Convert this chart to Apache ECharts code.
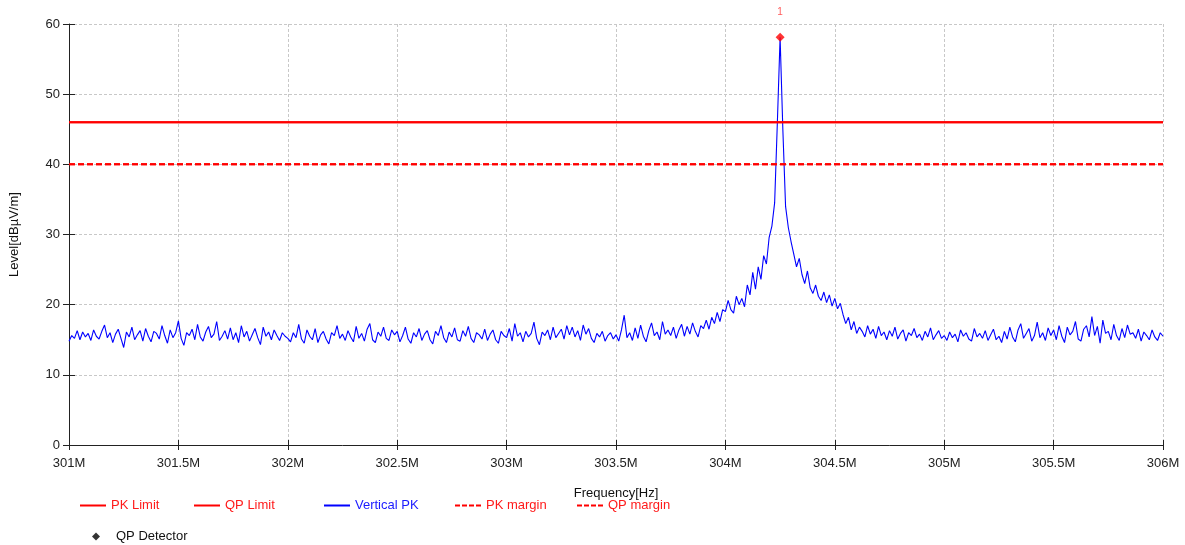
<!DOCTYPE html>
<html>
<head>
<meta charset="utf-8">
<title>Level vs Frequency</title>
<script src="https://cdn.jsdelivr.net/npm/echarts@6.0.0/dist/echarts.min.js"></script>
<style>
  html, body { margin: 0; padding: 0; background: #fff; }
  #chart { width: 1185px; height: 545px; }
</style>
</head>
<body>
<div id="chart"></div>
<script>
// scan range in MHz, points evenly spaced between start and end
var freqStart = 301;
var freqEnd = 306;
var xTicks = [301, 301.5, 302, 302.5, 303, 303.5, 304, 304.5, 305, 305.5, 306];
var yTicks = [0, 10, 20, 30, 40, 50, 60];

// Vertical PK trace, dBµV/m
var verticalPK = [
  14.8,15.6,15.2,16.3,15.0,16.1,15.4,15.9,14.9,16.4,15.5,15.1,16.2,17.1,15.3,16.0,14.6,15.8,16.5,15.2,
  13.9,16.1,15.4,16.8,15.0,15.7,16.3,14.8,16.6,15.5,14.7,16.2,15.9,15.1,17.0,15.6,14.5,16.4,15.3,16.0,
  17.7,15.2,14.2,16.0,15.6,16.5,15.0,17.2,15.4,14.8,16.1,16.9,15.3,15.8,17.6,14.9,15.5,16.3,15.1,16.7,
  15.0,16.0,14.6,17.0,15.4,16.2,14.8,15.7,16.6,15.3,14.3,16.8,15.5,16.1,15.0,16.4,15.6,14.9,16.0,15.5,
  15.2,14.7,16.0,15.3,17.2,15.1,14.5,16.4,15.5,15.0,16.6,14.6,15.7,16.2,15.1,14.4,16.0,15.6,17.0,15.2,
  15.8,14.9,16.3,15.4,14.7,16.9,15.2,15.9,14.8,16.5,17.3,15.0,14.6,16.1,15.5,16.8,15.2,14.9,16.4,15.7,
  16.2,14.7,15.6,16.8,15.1,14.5,16.0,15.4,16.6,14.9,15.8,16.3,15.0,14.4,16.2,15.6,17.0,15.3,14.6,16.1,
  15.4,16.7,15.0,14.8,16.3,15.5,16.9,15.2,14.6,16.0,15.7,15.1,16.5,14.9,15.8,16.4,15.0,14.5,16.2,15.6,
  15.3,16.6,14.8,17.3,15.5,16.0,14.7,16.2,15.4,15.9,17.5,15.2,14.3,16.1,15.6,16.4,15.0,16.8,15.3,15.9,
  16.5,15.1,17.0,15.7,16.8,15.4,16.3,14.9,17.1,15.8,16.6,15.2,14.6,15.9,15.4,16.2,14.8,15.6,16.0,15.1,
  15.7,14.8,16.4,18.5,15.3,16.0,14.9,16.7,15.2,17.1,15.5,14.7,16.3,17.4,15.6,16.1,15.0,17.6,15.8,16.4,
  15.6,16.8,15.2,16.4,17.2,15.5,16.9,15.8,17.4,16.2,15.4,17.0,16.6,17.8,16.5,18.2,17.3,18.9,17.6,19.3,
  19.0,20.6,19.3,18.8,21.2,20.0,20.9,19.7,22.8,21.4,24.6,22.2,25.4,23.6,27.0,25.8,29.6,31.2,34.5,46.0,
  58.1,45.0,34.0,31.0,29.0,27.2,25.4,26.6,24.3,23.0,24.8,22.4,21.6,22.8,21.2,20.6,21.8,20.3,21.4,19.8,
  20.9,19.4,20.2,18.6,17.3,18.2,16.4,17.6,15.9,16.8,16.2,15.4,17.0,15.8,16.5,15.2,16.9,15.6,16.1,15.0,
  16.3,15.5,16.8,15.1,15.9,16.4,14.8,16.0,15.6,16.6,15.3,15.8,14.9,16.2,15.4,16.7,15.0,15.7,16.3,15.2,
  15.6,14.9,16.1,15.3,15.8,14.7,16.4,15.5,16.0,15.1,14.8,16.6,15.4,15.9,15.2,16.3,14.9,15.7,16.5,15.0,
  15.5,14.6,16.2,15.1,16.8,15.4,14.7,16.4,17.3,15.2,15.9,16.6,14.8,15.6,17.5,15.3,16.0,14.9,16.7,15.6,
  16.4,15.0,17.0,15.5,14.6,16.8,15.7,16.2,17.6,15.1,14.8,16.5,17.0,15.4,18.3,15.6,16.9,14.5,17.8,15.9,
  16.2,15.0,17.2,15.6,14.9,16.6,15.3,17.1,15.8,16.0,15.2,16.5,14.8,16.1,15.6,15.0,16.4,15.4,14.9,16.0,
  15.5
];

var pkLimit = 46;
var qpLimit = 46;
var pkMargin = 40;
var qpMargin = 40;

var qpFreq = [304.25];
var qpLevel = [58.1];
var qpLabel = ['1'];

var fontFamily = "'Liberation Sans', Arial, sans-serif";

function buildTrace(levels) {
  var step = (freqEnd - freqStart) / (levels.length - 1);
  var out = [];
  for (var i = 0; i < levels.length; i++) {
    out.push([freqStart + i * step, levels[i]]);
  }
  return out;
}

function flatLine(level) {
  return [[freqStart, level], [freqEnd, level]];
}

var qpData = [];
for (var k = 0; k < qpFreq.length; k++) {
  qpData.push({ value: [qpFreq[k], qpLevel[k]], label: { formatter: qpLabel[k] } });
}

var dashIcon = 'path://M0,0h5v2h-5zM7,0h5v2h-5zM14,0h5v2h-5zM21,0h5v2h-5z';

function oneLegend(name, left, top, icon, textColor, w, h, iconColor, textPad) {
  var item = { name: name, icon: icon };
  if (iconColor) {
    item.itemStyle = { color: iconColor };
  }
  return {
    show: true,
    left: left,
    top: top,
    padding: 0,
    itemWidth: w,
    itemHeight: h,
    data: [item],
    selectedMode: false,
    textStyle: { color: textColor, fontSize: 13, fontFamily: fontFamily, padding: [0, 0, 0, textPad || 0] }
  };
}

var gridLine = { show: true, lineStyle: { color: '#c8c8c8', type: [3, 2], width: 1 } };

var myChart = echarts.init(document.getElementById('chart'));

var option = {
  animation: false,
  backgroundColor: '#fff',
  textStyle: { fontFamily: fontFamily },
  grid: { left: 68, right: 22, top: 24, bottom: 100 },
  legend: [
    oneLegend('PK Limit', 80, 499, 'rect', '#ff1a1a', 26, 2),
    oneLegend('QP Limit', 194, 499, 'rect', '#ff1a1a', 26, 2),
    oneLegend('Vertical PK', 324, 499, 'rect', '#1a1aff', 26, 2),
    oneLegend('PK margin', 455, 499, dashIcon, '#ff1a1a', 26, 2),
    oneLegend('QP margin', 577, 499, dashIcon, '#ff1a1a', 26, 2),
    oneLegend('QP Detector', 92, 530, 'diamond', '#111', 8, 8, '#000', 11)
  ],
  xAxis: [
    {
      type: 'value',
      min: xTicks[0],
      max: xTicks[xTicks.length - 1],
      interval: 0.5,
      name: 'Frequency[Hz]',
      nameLocation: 'middle',
      nameGap: 42,
      nameTextStyle: { color: '#111', fontSize: 13, fontFamily: fontFamily },
      axisLine: { show: true, lineStyle: { color: '#222', width: 1 } },
      axisTick: { show: true, length: 5, lineStyle: { color: '#222' } },
      axisLabel: {
        color: '#222',
        fontSize: 13,
        margin: 12,
        formatter: function (v) { return v + 'M'; }
      },
      splitLine: gridLine
    },
    {
      // inner half of the crossing ticks
      type: 'value',
      position: 'bottom',
      min: xTicks[0],
      max: xTicks[xTicks.length - 1],
      interval: 0.5,
      axisLine: { show: false },
      axisTick: { show: true, inside: true, length: 5, lineStyle: { color: '#222' } },
      axisLabel: { show: false },
      splitLine: { show: false }
    }
  ],
  yAxis: [
    {
      type: 'value',
      min: yTicks[0],
      max: yTicks[yTicks.length - 1],
      interval: 10,
      name: 'Level[dBµV/m]',
      nameLocation: 'middle',
      nameGap: 48,
      nameTextStyle: { color: '#111', fontSize: 13, fontFamily: fontFamily },
      axisLine: { show: true, lineStyle: { color: '#222', width: 1 } },
      axisTick: { show: true, length: 6, lineStyle: { color: '#222' } },
      axisLabel: { color: '#222', fontSize: 13, margin: 9 },
      splitLine: gridLine
    },
    {
      type: 'value',
      position: 'left',
      min: yTicks[0],
      max: yTicks[yTicks.length - 1],
      interval: 10,
      axisLine: { show: false },
      axisTick: { show: true, inside: true, length: 6, lineStyle: { color: '#222' } },
      axisLabel: { show: false },
      splitLine: { show: false }
    }
  ],
  series: [
    {
      name: 'Vertical PK',
      type: 'line',
      color: '#0000ff',
      data: buildTrace(verticalPK),
      symbol: 'none',
      lineStyle: { width: 1.1, color: '#0000ff' },
      z: 2
    },
    {
      name: 'PK Limit',
      type: 'line',
      color: '#ff0000',
      data: flatLine(pkLimit),
      symbol: 'none',
      lineStyle: { width: 2, color: '#ff0000' },
      z: 3
    },
    {
      name: 'QP Limit',
      type: 'line',
      color: '#ff0000',
      data: flatLine(qpLimit),
      symbol: 'none',
      lineStyle: { width: 2, color: '#ff0000' },
      z: 3
    },
    {
      name: 'PK margin',
      type: 'line',
      color: '#ff0000',
      data: flatLine(pkMargin),
      symbol: 'none',
      lineStyle: { width: 2, color: '#ff0000', type: [6, 3] },
      z: 3
    },
    {
      name: 'QP margin',
      type: 'line',
      color: '#ff0000',
      data: flatLine(qpMargin),
      symbol: 'none',
      lineStyle: { width: 2, color: '#ff0000', type: [6, 3] },
      z: 3
    },
    {
      name: 'QP Detector',
      type: 'scatter',
      color: '#ff0000',
      symbol: 'diamond',
      symbolSize: 9,
      data: qpData,
      label: {
        show: true,
        position: 'top',
        distance: 16,
        color: '#ff3030',
        fontSize: 10,
        fontFamily: fontFamily
      },
      z: 5
    }
  ]
};

myChart.setOption(option);
</script>
</body>
</html>
